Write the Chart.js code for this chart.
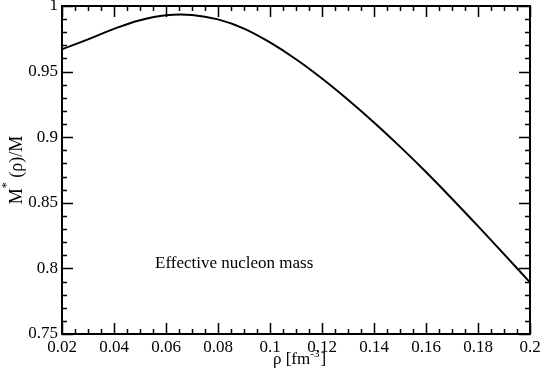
<!DOCTYPE html>
<html>
<head>
<meta charset="utf-8">
<script src="https://cdn.jsdelivr.net/npm/chart.js@4/dist/chart.umd.min.js"></script>
<style>
  html, body { margin: 0; padding: 0; background: #fff; }
  #wrap { width: 542px; height: 380px; }
</style>
</head>
<body>
<div id="wrap"><canvas id="chart" width="542" height="380"></canvas></div>
<script>
// density rho [fm^-3] and effective mass ratio M*(rho)/M
const rho = [0.02, 0.03, 0.04, 0.05, 0.06, 0.07, 0.08, 0.09, 0.10, 0.11,
             0.12, 0.13, 0.14, 0.15, 0.16, 0.17, 0.18, 0.19, 0.20]
const massRatio = [0.967, 0.9746, 0.9826, 0.9892, 0.993, 0.9932, 0.9898, 0.9828, 0.9722, 0.9594,
                   0.9447, 0.9285, 0.9112, 0.8928, 0.8735, 0.8531, 0.8322, 0.8109, 0.7893]

// tick values and labels
const xTicks = [0.02, 0.04, 0.06, 0.08, 0.1, 0.12, 0.14, 0.16, 0.18, 0.2]
const xTickLabels = ["0.02", "0.04", "0.06", "0.08", "0.1", "0.12", "0.14", "0.16", "0.18", "0.2"]
const yTicks = [0.75, 0.8, 0.85, 0.9, 0.95, 1]
const yTickLabels = ["0.75", "0.8", "0.85", "0.9", "0.95", "1"]
const xMinorStep = 0.005
const yMinorStep = 0.01

const serif = "'Liberation Serif', 'DejaVu Serif', serif"

// frame, inward ticks on all sides, axis titles and the note
const framePlugin = {
  id: "frame",
  afterDraw(chart) {
    const ctx = chart.ctx
    const a = chart.chartArea
    const xs = chart.scales.x
    const ys = chart.scales.y
    ctx.save()
    ctx.strokeStyle = "#000"
    ctx.lineWidth = 1.5

    // minor + major ticks on x (bottom and top)
    for (let v = xs.min; v <= xs.max + 1e-9; v += xMinorStep) {
      const isMajor = xTicks.some((t) => Math.abs(t - v) < 1e-6)
      const len = isMajor ? 11 : 5
      const px = Math.round(xs.getPixelForValue(v)) + 0.5
      ctx.beginPath()
      ctx.moveTo(px, a.bottom); ctx.lineTo(px, a.bottom - len)
      ctx.moveTo(px, a.top); ctx.lineTo(px, a.top + len)
      ctx.stroke()
    }
    // minor + major ticks on y (left and right)
    for (let v = ys.min; v <= ys.max + 1e-9; v += yMinorStep) {
      const isMajor = yTicks.some((t) => Math.abs(t - v) < 1e-6)
      const len = isMajor ? 11 : 5
      const py = Math.round(ys.getPixelForValue(v)) + 0.5
      ctx.beginPath()
      ctx.moveTo(a.left, py); ctx.lineTo(a.left + len, py)
      ctx.moveTo(a.right, py); ctx.lineTo(a.right - len, py)
      ctx.stroke()
    }

    // frame
    ctx.lineWidth = 2
    ctx.strokeRect(a.left, a.top, a.right - a.left, a.bottom - a.top)

    ctx.fillStyle = "#000"
    ctx.textBaseline = "alphabetic"
    ctx.textAlign = "left"

    // note inside the plot
    ctx.font = "17px " + serif
    ctx.fillText("Effective nucleon mass", 155, 268)

    // x title: rho [fm^-3]
    const big = "17px " + serif
    const small = "11px " + serif
    ctx.font = big
    const p1 = "\u03c1 [fm"
    const w1 = ctx.measureText(p1).width
    const w3 = ctx.measureText("]").width
    ctx.font = small
    const w2 = ctx.measureText("-3").width
    const x0 = 299 - (w1 + w2 + w3) / 2
    const base = 364
    ctx.font = big
    ctx.fillText(p1, x0, base)
    ctx.font = small
    ctx.fillText("-3", x0 + w1, base - 7)
    ctx.font = big
    ctx.fillText("]", x0 + w1 + w2 + 1, base)

    // y title: M* (rho)/M, rotated
    ctx.translate(22, 170)
    ctx.rotate(-Math.PI / 2)
    const yb = "18px " + serif
    const ys2 = "12px " + serif
    ctx.font = yb
    const m = "M"
    const rest = " (\u03c1)/M"
    const wm = ctx.measureText(m).width
    const wr = ctx.measureText(rest).width
    ctx.font = ys2
    const ws = ctx.measureText("*").width
    const y0 = -(wm + ws + wr) / 2
    ctx.font = yb
    ctx.fillText(m, y0, 0)
    ctx.font = ys2
    ctx.fillText("*", y0 + wm, -12)
    ctx.font = yb
    ctx.fillText(rest, y0 + wm + ws, 0)
    ctx.restore()
  },
}

new Chart(document.getElementById("chart"), {
  type: "line",
  data: {
    datasets: [
      {
        data: rho.map((r, i) => ({ x: r, y: massRatio[i] })),
        borderColor: "#000",
        borderWidth: 2,
        pointRadius: 0,
        fill: false,
        tension: 0.4,
      },
    ],
  },
  options: {
    responsive: false,
    animation: false,
    layout: { padding: { top: 6, right: 12, left: 0, bottom: 0 } },
    plugins: {
      legend: { display: false },
      tooltip: { enabled: false },
    },
    scales: {
      x: {
        type: "linear",
        min: 0.02,
        max: 0.2,
        grid: { display: false, drawTicks: false },
        border: { display: false },
        afterBuildTicks: (s) => { s.ticks = xTicks.map((v) => ({ value: v })) },
        afterFit: (s) => { s.height = 46; s.paddingLeft = 0; s.paddingRight = 0 },
        ticks: {
          autoSkip: false,
          maxRotation: 0,
          padding: 3,
          color: "#000",
          font: { family: serif, size: 17 },
          callback: (v, i) => xTickLabels[i],
        },
      },
      y: {
        min: 0.75,
        max: 1,
        grid: { display: false, drawTicks: false },
        border: { display: false },
        afterBuildTicks: (s) => { s.ticks = yTicks.map((v) => ({ value: v })) },
        afterFit: (s) => { s.width = 62; s.paddingTop = 0; s.paddingBottom = 0 },
        ticks: {
          autoSkip: false,
          padding: 4,
          color: "#000",
          font: { family: serif, size: 17 },
          callback: (v, i) => yTickLabels[i],
        },
      },
    },
  },
  plugins: [framePlugin],
})
</script>
</body>
</html>
